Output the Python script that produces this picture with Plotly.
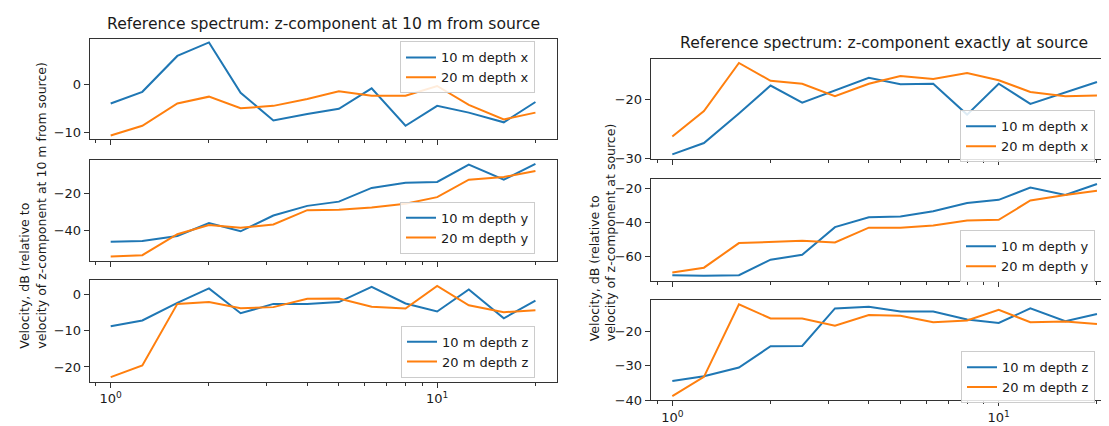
import plotly.graph_objects as go

# ---------------- data ----------------
freq = [1, 1.25, 1.6, 2, 2.5, 3.15, 4, 5, 6.3, 8, 10, 12.5, 16, 20]

# Left column: reference = z-component at 10 m from source
l_x_10 = [-4.0, -1.6, 5.8, 8.6, -1.8, -7.5, -6.2, -5.1, -0.9, -8.6, -4.5, -5.9, -7.9, -3.7]
l_x_20 = [-10.6, -8.6, -4.0, -2.6, -5.0, -4.5, -3.1, -1.5, -2.4, -2.4, -0.4, -4.3, -7.3, -5.9]
l_y_10 = [-46.1, -45.7, -43.0, -36.1, -40.5, -32.0, -26.8, -24.5, -17.1, -14.3, -13.9, -4.5, -12.7, -4.1]
l_y_20 = [-54.1, -53.4, -42.1, -37.1, -38.6, -36.8, -29.1, -28.9, -27.7, -25.7, -22.1, -12.7, -11.2, -8.0]
l_z_10 = [-8.7, -7.1, -2.2, 1.8, -5.1, -2.5, -2.5, -2.0, 2.2, -2.4, -4.6, 1.5, -6.5, -1.6]
l_z_20 = [-22.8, -19.6, -2.5, -2.0, -3.7, -3.4, -1.1, -1.0, -3.3, -3.8, 2.5, -2.9, -4.8, -4.3]

# Right column: reference = z-component exactly at source
r_x_10 = [-29.3, -27.4, -22.4, -17.7, -20.6, -18.5, -16.4, -17.5, -17.4, -22.6, -17.4, -20.8, -18.9, -17.1]
r_x_20 = [-26.3, -22.0, -13.9, -16.9, -17.4, -19.5, -17.4, -16.1, -16.6, -15.6, -16.8, -18.8, -19.5, -19.4]
r_y_10 = [-71.2, -71.6, -71.2, -62.1, -59.2, -42.9, -37.1, -36.6, -33.5, -28.7, -26.8, -19.6, -23.9, -17.5]
r_y_20 = [-69.7, -66.8, -52.3, -51.5, -50.9, -51.9, -43.2, -43.2, -41.9, -39.0, -38.6, -27.2, -23.9, -21.5]
r_z_10 = [-34.4, -33.0, -30.5, -24.3, -24.2, -13.3, -12.8, -14.2, -14.2, -16.5, -17.5, -13.3, -17.0, -14.9]
r_z_20 = [-38.8, -33.2, -12.1, -16.2, -16.2, -18.3, -15.2, -15.4, -17.3, -16.8, -13.7, -17.3, -17.1, -17.8]

series_names_10 = ["10 m depth x", "10 m depth y", "10 m depth z"]
series_names_20 = ["20 m depth x", "20 m depth y", "20 m depth z"]

left_title = "Reference spectrum: z-component at 10 m from source"
right_title = "Reference spectrum: z-component exactly at source"
left_ylabel = "Velocity, dB (relative to<br>velocity of z-component at 10 m from source)"
right_ylabel = "Velocity, dB (relative to<br>velocity of z-component at source)"

# y tick values per panel
yticks = [
    [0, -10], [-20, -40], [0, -10, -20],
    [-20, -30], [-20, -40, -60], [-20, -30, -40],
]
yranges = [
    [-11.3, 9.2], [-56.4, -2.3], [-24.1, 4.0],
    [-30.05, -13.2], [-74.5, -14.6], [-40.05, -10.8],
]

BLUE = "#1f77b4"
ORANGE = "#ff7f0e"
TXT = "#1a1a1a"
W, H = 1109, 426

def px_x(p):
    return p / W

def px_y(p):
    return 1 - p / H

# panel geometry (pixels)
left_x = (81.7, 549.3)
right_x = (642.7, 1109.0)
left_y = [(32, 133), (155, 257), (277, 380)]
right_y = [(51.7, 153.3), (174, 277.3), (296.7, 399)]

panels = [
    (l_x_10, l_x_20), (l_y_10, l_y_20), (l_z_10, l_z_20),
    (r_x_10, r_x_20), (r_y_10, r_y_20), (r_z_10, r_z_20),
]

legend_pos = [
    (527, 34), (527, 197), (527, 323),
    (1087, 104), (1087, 226), (1087, 349),
]

fig = go.Figure()

for i, (s10, s20) in enumerate(panels):
    ax = "" if i == 0 else str(i + 1)
    leg = "legend" if i == 0 else f"legend{i + 1}"
    comp = i % 3
    fig.add_trace(go.Scatter(x=freq, y=s10, mode="lines", name=series_names_10[comp],
                             line=dict(color=BLUE, width=2), xaxis="x" + ax, yaxis="y" + ax,
                             legend=leg))
    fig.add_trace(go.Scatter(x=freq, y=s20, mode="lines", name=series_names_20[comp],
                             line=dict(color=ORANGE, width=2), xaxis="x" + ax, yaxis="y" + ax,
                             legend=leg))

layout = dict(
    width=W, height=H,
    margin=dict(l=0, r=0, t=0, b=0),
    paper_bgcolor="white", plot_bgcolor="white",
    font=dict(family="DejaVu Sans", size=13, color=TXT),
    showlegend=True,
)

minor_vals = [0.9, 2, 3, 4, 5, 6, 7, 8, 9, 20]
for i in range(6):
    ax = "" if i == 0 else str(i + 1)
    left = i < 3
    xd = left_x if left else right_x
    yd = (left_y if left else right_y)[i % 3]
    bottom = (i % 3) == 2
    xr = [-0.0643, 1.368] if left else [-0.0662, 1.3624]
    layout["xaxis" + ax] = dict(
        type="log", range=xr,
        domain=[px_x(xd[0]), px_x(xd[1])],
        anchor="y" + ax,
        tickvals=[1, 10], ticktext=["10<sup>0</sup>", "10<sup>1</sup>"],
        showticklabels=bottom,
        ticks="outside", ticklen=5, tickwidth=1, tickcolor="#333",
        minor=dict(tickvals=minor_vals, ticks="outside", ticklen=3, tickwidth=1,
                   tickcolor="#333", showgrid=False),
        showgrid=False, zeroline=False,
        showline=True, linecolor="#333", linewidth=1, mirror=True,
        tickfont=dict(size=13, color=TXT),
    )
    layout["yaxis" + ax] = dict(
        range=yranges[i],
        domain=[px_y(yd[1]), px_y(yd[0])],
        anchor="x" + ax,
        tickmode="array", tickvals=yticks[i],
        ticktext=[("−" + str(abs(v))) if v < 0 else str(v) for v in yticks[i]],
        ticks="outside", ticklen=5, tickwidth=1, tickcolor="#333",
        showgrid=False, zeroline=False,
        showline=True, linecolor="#333", linewidth=1, mirror=left,
        tickfont=dict(size=13, color=TXT),
    )
    lname = "legend" if i == 0 else f"legend{i + 1}"
    lx, ly = legend_pos[i]
    layout[lname] = dict(
        x=px_x(lx), y=px_y(ly), xanchor="right", yanchor="top",
        xref="paper", yref="paper",
        bgcolor="rgba(255,255,255,0.85)", bordercolor="#cccccc", borderwidth=1,
        font=dict(size=13, color=TXT),
        tracegroupgap=0, itemwidth=30,
    )

fig.update_layout(**layout)

annotations = [
    dict(text=left_title, x=px_x((left_x[0] + left_x[1]) / 2), y=px_y(16),
         xref="paper", yref="paper", showarrow=False, xanchor="center", yanchor="middle",
         font=dict(size=15.6, color=TXT)),
    dict(text=right_title, x=px_x((642.7 + 1109.8) / 2), y=px_y(36),
         xref="paper", yref="paper", showarrow=False, xanchor="center", yanchor="middle",
         font=dict(size=15.6, color=TXT)),
    dict(text=left_ylabel, x=px_x(25), y=px_y(201), textangle=-90, align="left",
         xref="paper", yref="paper", showarrow=False, xanchor="center", yanchor="middle",
         font=dict(size=12.5, color=TXT)),
    dict(text=right_ylabel, x=px_x(594), y=px_y(228), textangle=-90, align="left",
         xref="paper", yref="paper", showarrow=False, xanchor="center", yanchor="middle",
         font=dict(size=12.5, color=TXT)),
]
fig.update_layout(annotations=annotations)

fig.write_html("out.html")
